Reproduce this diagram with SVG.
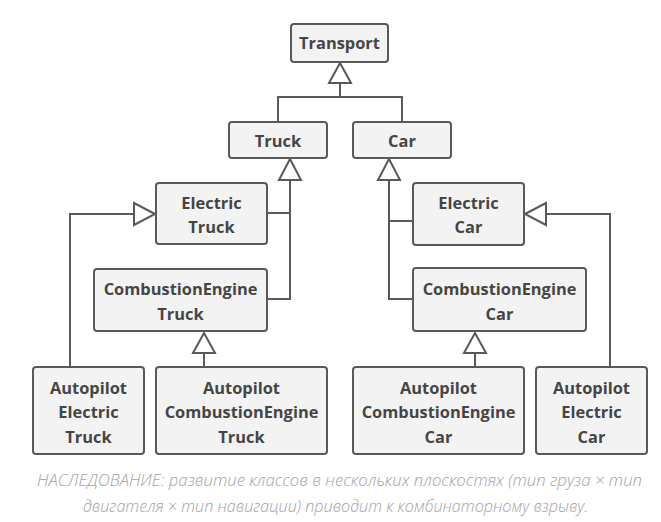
<svg xmlns="http://www.w3.org/2000/svg" width="661" height="522" viewBox="0 0 661 522">
<style>
.box{fill:#f3f3f3;stroke:#595959;stroke-width:2}
.lbl{font-family:"Open Sans","Noto Sans",sans-serif;font-weight:700;font-size:16.4px;fill:#454545;text-anchor:middle}
.ln{fill:none;stroke:#595959;stroke-width:2}
.tri{fill:#fff;stroke:#595959;stroke-width:2;stroke-linejoin:miter}
.cap{font-family:"Open Sans","Noto Sans",sans-serif;font-style:italic;font-weight:300;font-size:16px;fill:#a3a3a3}
</style>
<rect width="661" height="522" fill="#fff"/>
<g id="connectors">
<path class="ln" d="M340 83V97M278 122V97H402V122"/>
<path class="ln" d="M290 180V299H267M267 213H290"/>
<path class="ln" d="M70 367V214H134"/>
<path class="ln" d="M204 367V353"/>
<path class="ln" d="M389 180V299H413M389 221H413"/>
<path class="ln" d="M610 367V214H546"/>
<path class="ln" d="M475 367V353"/>
<polygon class="tri" points="340,63 351,83 329,83"/>
<polygon class="tri" points="290,159 301,180 279,180"/>
<polygon class="tri" points="389,159 400,180 378,180"/>
<polygon class="tri" points="155,214 134,203 134,225"/>
<polygon class="tri" points="525,214 546,203 546,225"/>
<polygon class="tri" points="204,333 215,353 193,353"/>
<polygon class="tri" points="475,333 486,353 464,353"/>
</g>
<g id="transport"><rect class="box" x="291" y="24" width="97" height="38" rx="3"/><text class="lbl" x="339.5" y="49">Transport</text></g>
<g id="truck"><rect class="box" x="229" y="122" width="98" height="36" rx="3"/><text class="lbl" x="278" y="147">Truck</text></g>
<g id="car"><rect class="box" x="353" y="122" width="98" height="36" rx="3"/><text class="lbl" x="402" y="147">Car</text></g>
<g id="electric-truck"><rect class="box" x="156" y="183" width="111" height="61" rx="3"/><text class="lbl" x="211.5" y="209">Electric</text><text class="lbl" x="211.5" y="233">Truck</text></g>
<g id="combustion-truck"><rect class="box" x="94" y="269" width="173" height="62" rx="3"/><text class="lbl" x="180.5" y="295">CombustionEngine</text><text class="lbl" x="180.5" y="320">Truck</text></g>
<g id="electric-car"><rect class="box" x="413" y="183" width="111" height="62" rx="3"/><text class="lbl" x="468.5" y="209">Electric</text><text class="lbl" x="468.5" y="233">Car</text></g>
<g id="combustion-car"><rect class="box" x="413" y="268" width="173" height="63" rx="3"/><text class="lbl" x="499.5" y="295">CombustionEngine</text><text class="lbl" x="499.5" y="320">Car</text></g>
<g id="autopilot-electric-truck"><rect class="box" x="33" y="367" width="111" height="87" rx="3"/><text class="lbl" x="88.5" y="394">Autopilot</text><text class="lbl" x="88.5" y="418">Electric</text><text class="lbl" x="88.5" y="443">Truck</text></g>
<g id="autopilot-combustion-truck"><rect class="box" x="156" y="367" width="171" height="87" rx="3"/><text class="lbl" x="241.5" y="394">Autopilot</text><text class="lbl" x="241.5" y="418">CombustionEngine</text><text class="lbl" x="241.5" y="443">Truck</text></g>
<g id="autopilot-combustion-car"><rect class="box" x="353" y="367" width="171" height="87" rx="3"/><text class="lbl" x="438.5" y="394">Autopilot</text><text class="lbl" x="438.5" y="418">CombustionEngine</text><text class="lbl" x="438.5" y="443">Car</text></g>
<g id="autopilot-electric-car"><rect class="box" x="536" y="367" width="111" height="87" rx="3"/><text class="lbl" x="591.5" y="394">Autopilot</text><text class="lbl" x="591.5" y="418">Electric</text><text class="lbl" x="591.5" y="443">Car</text></g>
<g id="caption">
<text class="cap" x="37" y="486" textLength="605" lengthAdjust="spacingAndGlyphs">НАСЛЕДОВАНИЕ: развитие классов в нескольких плоскостях (тип груза × тип</text>
<text class="cap" x="83" y="512" textLength="505" lengthAdjust="spacingAndGlyphs">двигателя × тип навигации) приводит к комбинаторному взрыву.</text>
</g>
</svg>
